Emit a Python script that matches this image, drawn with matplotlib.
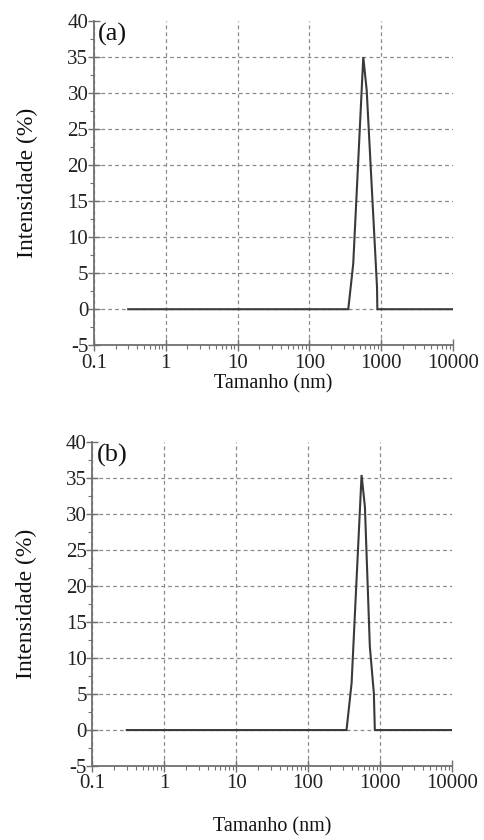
import numpy as np
import matplotlib.pyplot as plt
from matplotlib.ticker import MultipleLocator, LogLocator, FixedLocator, FixedFormatter

plt.rcParams['font.family'] = ['Liberation Serif', 'DejaVu Serif']
plt.rcParams['axes.unicode_minus'] = False

# DLS size distributions
size_a = [0.3, 348, 408, 563, 628, 875, 884, 10000]
intensity_a = [0, 0, 6.3, 35.0, 30.4, 3.0, 0, 0]

size_b = [0.3, 341, 401, 552, 614, 719, 818, 844, 10000]
intensity_b = [0, 0, 6.5, 35.4, 31.0, 11.6, 5.1, 0, 0]

panels = ["(a)", "(b)"]
xticks = [0.1, 1, 10, 100, 1000, 10000]
xtick_labels = ["0.1", "1", "10", "100", "1000", "10000"]
yticks = [-5, 0, 5, 10, 15, 20, 25, 30, 35, 40]

fig = plt.figure(figsize=(4.84, 8.4), dpi=100)
ax_a = fig.add_axes([0.194, 0.589, 0.742, 0.386])
ax_b = fig.add_axes([0.191, 0.088, 0.743, 0.386])

spine_col = '#707070'
for ax, xs, ys, tag, lpad in [(ax_a, size_a, intensity_a, panels[0], 1),
                              (ax_b, size_b, intensity_b, panels[1], 17)]:
    ax.set_xscale('log')
    ax.set_xlim(0.1, 10000)
    ax.set_ylim(-5, 40)
    ax.plot(xs, ys, color='#3a3a3a', lw=1.5, zorder=3, solid_joinstyle='miter')

    ax.xaxis.set_major_locator(FixedLocator(xticks))
    ax.xaxis.set_major_formatter(FixedFormatter(xtick_labels))
    ax.xaxis.set_minor_locator(LogLocator(base=10, subs=np.arange(2, 10)))
    ax.yaxis.set_major_locator(FixedLocator(yticks))
    ax.yaxis.set_minor_locator(MultipleLocator(2.5))

    ax.grid(True, which='major', color='#8a8a8a', ls=(0, (3, 2.5)), lw=0.9)
    # no grid at the outer limits (40 and 10000)
    ax.get_xgridlines()[-1].set_visible(False)
    ax.get_ygridlines()[-1].set_visible(False)
    for sp in ['top', 'right']:
        ax.spines[sp].set_visible(False)
    for sp in ['left', 'bottom']:
        ax.spines[sp].set_color(spine_col)
        ax.spines[sp].set_linewidth(1.3)
    ax.tick_params(which='major', direction='inout', length=8, width=1, color=spine_col,
                   labelsize=15, pad=0, labelcolor='#222222')
    ax.tick_params(which='minor', direction='out', length=3, width=0.8, color=spine_col)
    ax.tick_params(axis='x', which='major', pad=2)

    ax.set_xlabel("Tamanho (nm)", fontsize=14.5, labelpad=lpad, color='#111111')
    ax.set_ylabel("Intensidade (%)", fontsize=17, labelpad=21, color='#111111')
    ax.text(0.012, 0.995, tag, transform=ax.transAxes, fontsize=19,
            ha='left', va='top', color='#111111')

fig.savefig("out.png", dpi=100)
